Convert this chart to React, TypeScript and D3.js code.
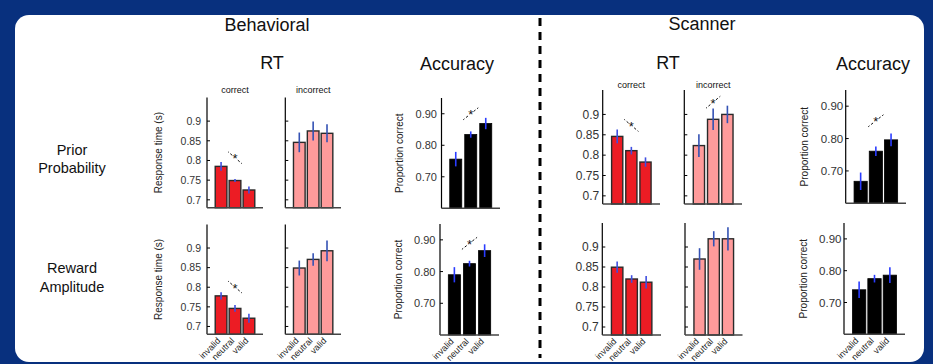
import React, { useEffect, useRef } from "react";
import * as d3 from "d3";

// Cue conditions shown on every x axis
const categories = ["invalid", "neutral", "valid"];

// Behavioral session, prior probability manipulation
const behavRtCorrectPrior = [0.785, 0.749, 0.725];
const behavRtCorrectPriorErr = [0.011, 0.004, 0.009];
const behavRtIncorrectPrior = [0.846, 0.875, 0.869];
const behavRtIncorrectPriorErr = [0.025, 0.024, 0.023];
const behavAccPrior = [0.756, 0.834, 0.869];
const behavAccPriorErr = [0.023, 0.01, 0.018];

// Behavioral session, reward amplitude manipulation
const behavRtCorrectReward = [0.778, 0.746, 0.721];
const behavRtCorrectRewardErr = [0.0095, 0.0086, 0.0115];
const behavRtIncorrectReward = [0.849, 0.871, 0.893];
const behavRtIncorrectRewardErr = [0.019, 0.016, 0.0265];
const behavAccReward = [0.79, 0.825, 0.866];
const behavAccRewardErr = [0.024, 0.009, 0.02];

// Scanner session, prior probability manipulation
const scanRtCorrectPrior = [0.846, 0.811, 0.783];
const scanRtCorrectPriorErr = [0.017, 0.0093, 0.0115];
const scanRtIncorrectPrior = [0.8235, 0.888, 0.9];
const scanRtIncorrectPriorErr = [0.028, 0.0265, 0.0215];
const scanAccPrior = [0.668, 0.761, 0.796];
const scanAccPriorErr = [0.027, 0.0145, 0.0195];

// Scanner session, reward amplitude manipulation
const scanRtCorrectReward = [0.8495, 0.82, 0.812];
const scanRtCorrectRewardErr = [0.014, 0.0095, 0.0155];
const scanRtIncorrectReward = [0.87, 0.9205, 0.9205];
const scanRtIncorrectRewardErr = [0.027, 0.019, 0.029];
const scanAccReward = [0.74, 0.775, 0.786];
const scanAccRewardErr = [0.026, 0.012, 0.025];

// Axis ranges and ticks
const rtDomain = [0.68, 0.96];
const rtTicks = [0.7, 0.75, 0.8, 0.85, 0.9];
const accDomain = [0.6, 0.95];
const accTicks = [0.7, 0.8, 0.9];

// Significance markers: height of the star (data units) and trend direction
const sigBehavRtPrior = { y: 0.807, dir: -1 };
const sigBehavRtReward = { y: 0.8005, dir: -1 };
const sigBehavAccPrior = { y: 0.9, dir: 1 };
const sigBehavAccReward = { y: 0.889, dir: 1 };
const sigScanRtPrior = { y: 0.873, dir: -1 };
const sigScanRtIncPrior = { y: 0.93, dir: 1 };
const sigScanAccPrior = { y: 0.855, dir: 1 };

const RED = "#ec1c24";
const PINK = "#ff9b9b";
const BLACK = "#000000";

type Panel = {
  x0: number; x1: number; y0: number; y1: number;
  values: number[]; errs: number[];
  kind: "rt" | "acc";
  fill: string;
  tickLabels: boolean;
  tickFont: number;
  tickGap: number;
  ylabel?: string;
  ylabelX?: number;
  title?: string;
  titleY?: number;
  sig?: { y: number; dir: number };
  errColor: string;
  pad: [number, number];
  bottomRow?: boolean;
};

const panels: Panel[] = [
  // Behavioral, prior
  { x0: 207, x1: 263, y0: 97.5, y1: 207.7, values: behavRtCorrectPrior, errs: behavRtCorrectPriorErr, kind: "rt", fill: RED, tickLabels: true, tickFont: 10.5, tickGap: 6, ylabel: "Response time (s)", ylabelX: 162, title: "correct", titleY: 93, sig: sigBehavRtPrior, errColor: "#3f4fe0", pad: [0.16, 0.59] },
  { x0: 285.3, x1: 341, y0: 97.5, y1: 207.7, values: behavRtIncorrectPrior, errs: behavRtIncorrectPriorErr, kind: "rt", fill: PINK, tickLabels: false, tickFont: 10.5, tickGap: 6, title: "incorrect", titleY: 93, errColor: "#3452b4", pad: [0.16, 0.59] },
  { x0: 441.5, x1: 500, y0: 98, y1: 208.3, values: behavAccPrior, errs: behavAccPriorErr, kind: "acc", fill: BLACK, tickLabels: true, tickFont: 11, tickGap: 4.5, ylabel: "Proportion correct", ylabelX: 403, sig: sigBehavAccPrior, errColor: "#2a3cff", pad: [0.2, 0.55] },
  // Behavioral, reward
  { x0: 207, x1: 263, y0: 224.5, y1: 334.3, values: behavRtCorrectReward, errs: behavRtCorrectRewardErr, kind: "rt", fill: RED, tickLabels: true, tickFont: 10.5, tickGap: 6, ylabel: "Response time (s)", ylabelX: 162, sig: sigBehavRtReward, errColor: "#3f4fe0", pad: [0.16, 0.59], bottomRow: true },
  { x0: 285.3, x1: 341, y0: 224.5, y1: 334.3, values: behavRtIncorrectReward, errs: behavRtIncorrectRewardErr, kind: "rt", fill: PINK, tickLabels: false, tickFont: 10.5, tickGap: 6, errColor: "#3452b4", pad: [0.16, 0.59], bottomRow: true },
  { x0: 440, x1: 499, y0: 224, y1: 335, values: behavAccReward, errs: behavAccRewardErr, kind: "acc", fill: BLACK, tickLabels: true, tickFont: 11, tickGap: 4.5, ylabel: "Proportion correct", ylabelX: 402, sig: sigBehavAccReward, errColor: "#2a3cff", pad: [0.2, 0.55], bottomRow: true },
  // Scanner, prior
  { x0: 602.7, x1: 660, y0: 90, y1: 204, values: scanRtCorrectPrior, errs: scanRtCorrectPriorErr, kind: "rt", fill: RED, tickLabels: true, tickFont: 12, tickGap: 3.5, title: "correct", titleY: 88, sig: sigScanRtPrior, errColor: "#3f4fe0", pad: [0.21, 0.63] },
  { x0: 684.3, x1: 742, y0: 90, y1: 204, values: scanRtIncorrectPrior, errs: scanRtIncorrectPriorErr, kind: "rt", fill: PINK, tickLabels: false, tickFont: 12, tickGap: 3.5, title: "incorrect", titleY: 88, sig: sigScanRtIncPrior, errColor: "#3452b4", pad: [0.21, 0.63] },
  { x0: 845.7, x1: 906, y0: 90, y1: 203.3, values: scanAccPrior, errs: scanAccPriorErr, kind: "acc", fill: BLACK, tickLabels: true, tickFont: 11.5, tickGap: 2.5, ylabel: "Proportion correct", ylabelX: 808, sig: sigScanAccPrior, errColor: "#2a3cff", pad: [0.133, 0.55] },
  // Scanner, reward
  { x0: 602.3, x1: 661, y0: 223, y1: 335, values: scanRtCorrectReward, errs: scanRtCorrectRewardErr, kind: "rt", fill: RED, tickLabels: true, tickFont: 12, tickGap: 3.5, errColor: "#3f4fe0", pad: [0.21, 0.63], bottomRow: true },
  { x0: 685, x1: 742.5, y0: 223, y1: 335, values: scanRtIncorrectReward, errs: scanRtIncorrectRewardErr, kind: "rt", fill: PINK, tickLabels: false, tickFont: 12, tickGap: 3.5, errColor: "#3452b4", pad: [0.21, 0.63], bottomRow: true },
  { x0: 844, x1: 905, y0: 223, y1: 334.3, values: scanAccReward, errs: scanAccRewardErr, kind: "acc", fill: BLACK, tickLabels: true, tickFont: 11.5, tickGap: 2.5, ylabel: "Proportion correct", ylabelX: 807, errColor: "#2a3cff", pad: [0.133, 0.55], bottomRow: true },
];

const FONT = "'Liberation Sans', Arial, Helvetica, sans-serif";

export default function App() {
  const ref = useRef<SVGSVGElement | null>(null);

  useEffect(() => {
    const svg = d3.select(ref.current);
    svg.selectAll("*").remove();

    // Blue backdrop with a white rounded card
    svg.append("rect").attr("width", 933).attr("height", 364).attr("fill", "#08307e");
    svg.append("rect")
      .attr("x", 15).attr("y", 15).attr("width", 909).attr("height", 347)
      .attr("rx", 14).attr("ry", 14).attr("fill", "#ffffff");

    const txt = (x: number, y: number, s: string, size: number, anchor = "middle") =>
      svg.append("text").attr("x", x).attr("y", y).attr("text-anchor", anchor)
        .attr("font-family", FONT).attr("font-size", size).attr("fill", "#111").text(s);

    // Section headings
    txt(267, 31, "Behavioral", 18);
    txt(702, 30, "Scanner", 18);
    txt(272, 69, "RT", 18);
    txt(457, 70, "Accuracy", 18);
    txt(668, 69, "RT", 18);
    txt(873, 70, "Accuracy", 18);

    // Row labels
    txt(72, 155, "Prior", 14.5);
    txt(72, 173, "Probability", 14.5);
    txt(72, 273, "Reward", 14.5);
    txt(72, 292, "Amplitude", 14.5);

    // Dashed divider between sessions
    svg.append("line")
      .attr("x1", 540).attr("x2", 540).attr("y1", 18).attr("y2", 358)
      .attr("stroke", "#000").attr("stroke-width", 3).attr("stroke-dasharray", "8,6");

    panels.forEach((p) => {
      const g = svg.append("g");
      const y = d3.scaleLinear().domain(p.kind === "rt" ? rtDomain : accDomain).range([p.y1, p.y0]);
      const x = d3.scaleBand<string>().domain(categories).range([p.x0, p.x1])
        .paddingInner(p.pad[0]).paddingOuter(p.pad[1]);
      const ticks = p.kind === "rt" ? rtTicks : accTicks;
      const fmt = p.kind === "rt" ? (v: number) => String(+v.toFixed(2)) : d3.format(".2f");

      // bars
      g.selectAll("rect.bar").data(p.values).enter().append("rect")
        .attr("x", (_, i) => x(categories[i])!)
        .attr("width", x.bandwidth())
        .attr("y", (d) => y(d))
        .attr("height", (d) => p.y1 - y(d))
        .attr("fill", p.fill)
        .attr("stroke", p.kind === "rt" ? "#2a2a2a" : "#000")
        .attr("stroke-width", p.kind === "rt" ? 1.4 : 0.8);

      // error bars
      g.selectAll("line.err").data(p.values).enter().append("line")
        .attr("x1", (_, i) => x(categories[i])! + x.bandwidth() / 2)
        .attr("x2", (_, i) => x(categories[i])! + x.bandwidth() / 2)
        .attr("y1", (d, i) => y(d + p.errs[i]))
        .attr("y2", (d, i) => y(d - p.errs[i]))
        .attr("stroke", p.errColor).attr("stroke-width", 1.6);

      // y axis with inward ticks
      g.append("line").attr("x1", p.x0).attr("x2", p.x0).attr("y1", p.y0).attr("y2", p.y1)
        .attr("stroke", "#000").attr("stroke-width", 1.2);
      ticks.forEach((t) => {
        g.append("line").attr("x1", p.x0).attr("x2", p.x0 + 3).attr("y1", y(t)).attr("y2", y(t))
          .attr("stroke", "#000").attr("stroke-width", 1);
        if (p.tickLabels) {
          g.append("text").attr("x", p.x0 - p.tickGap).attr("y", y(t)).attr("dy", "0.36em")
            .attr("text-anchor", "end").attr("font-family", FONT).attr("font-size", p.tickFont)
            .attr("fill", "#333").text(fmt(t));
        }
      });

      // x axis
      g.append("line").attr("x1", p.x0).attr("x2", p.x1).attr("y1", p.y1).attr("y2", p.y1)
        .attr("stroke", "#444").attr("stroke-width", 1.6);

      if (p.ylabel) {
        g.append("text")
          .attr("transform", `translate(${p.ylabelX},${(p.y0 + p.y1) / 2}) rotate(-90)`)
          .attr("text-anchor", "middle").attr("font-family", FONT).attr("font-size", 10)
          .attr("fill", "#222").text(p.ylabel);
      }
      if (p.title) {
        g.append("text").attr("x", (p.x0 + p.x1) / 2).attr("y", p.titleY!)
          .attr("text-anchor", "middle").attr("font-family", FONT).attr("font-size", 9)
          .attr("fill", "#111").text(p.title);
      }

      // category labels on the bottom row
      if (p.bottomRow) {
        categories.forEach((c) => {
          const cx = x(c)! + x.bandwidth() / 2;
          g.append("text")
            .attr("transform", `translate(${cx},${p.y1 + 7}) rotate(-45)`)
            .attr("text-anchor", "end").attr("font-family", FONT).attr("font-size", 9)
            .attr("fill", "#222").text(c);
        });
      }

      // significance marker: dashed trend line with a star
      if (p.sig) {
        const sx = x(categories[1])! + x.bandwidth() / 2;
        const sy = y(p.sig.y);
        const step = x.step() / 2;
        const dy = -p.sig.dir * 6;
        [-1, 1].forEach((s) => {
          g.append("line")
            .attr("x1", sx + s * 2.8).attr("y1", sy + (s * dy * 2.8) / step)
            .attr("x2", sx + s * step).attr("y2", sy + s * dy)
            .attr("stroke", "#111").attr("stroke-width", 1).attr("stroke-dasharray", "2.5,2");
        });
        g.append("text").attr("x", sx).attr("y", sy + 5.5).attr("text-anchor", "middle")
          .attr("font-family", FONT).attr("font-size", 13)
          .attr("fill", "#111").text("*");
      }
    });
  }, []);

  return (
    <div style={{ position: "fixed", left: 0, top: 0 }}>
      <svg ref={ref} width={933} height={364} style={{ display: "block" }} />
    </div>
  );
}
